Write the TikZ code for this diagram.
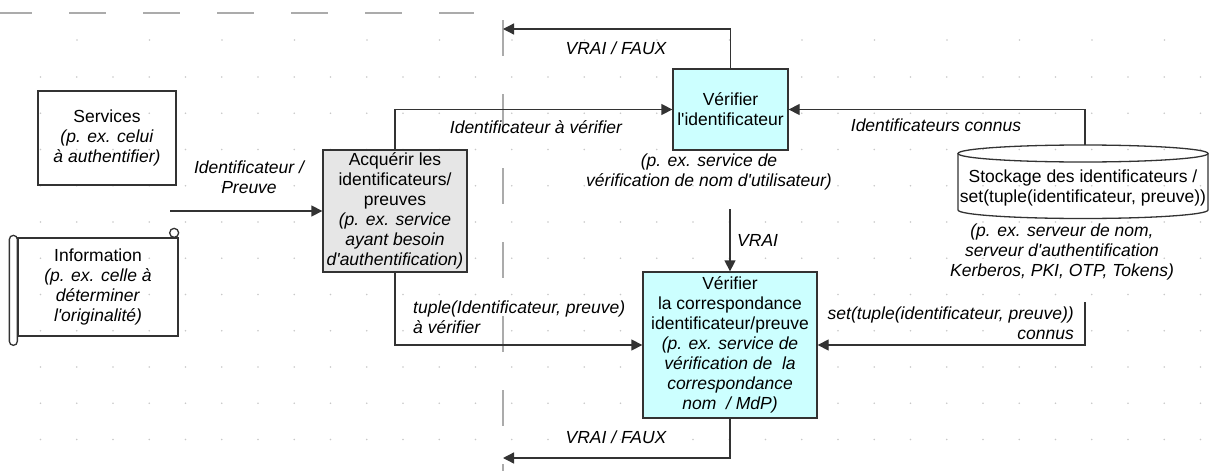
\documentclass[tikz,border=0pt]{standalone}
\usepackage{fontspec}
\setmainfont{Liberation Sans}[Ligatures=TeXOff]
\usepackage{xcolor}
\usetikzlibrary{arrows.meta}
\definecolor{boxcyan}{HTML}{CCFFFF}
\definecolor{boxgrey}{HTML}{E6E6E6}
\definecolor{linegrey}{HTML}{333333}
\definecolor{guidegrey}{HTML}{ABABAB}
\definecolor{dotgrey}{HTML}{C8C8C8}
\tikzset{
  block/.style={rectangle, draw=linegrey, line width=1.3pt, inner sep=0pt, align=center},
  process/.style={block, fill=boxcyan},
  acquire/.style={block, fill=boxgrey},
  note/.style={inner sep=0pt, align=center, font=\fontsize{17.5}{20}\selectfont\itshape},
  arrow/.style={-{Triangle[length=11pt,width=11pt]}, line width=1.3pt, draw=linegrey},
  guide/.style={draw=guidegrey, line width=1.3pt},
}

\begin{document}
\begin{tikzpicture}[x=1pt, y=-1pt, font=\fontsize{17.5}{20}\selectfont]
  \useasboundingbox (0,0) rectangle (1210,471);

  % Grid
  \foreach \i in {0,...,32}
    \foreach \j in {0,...,10}
      \fill[dotgrey] (40.5+36.25*\i, 77+36.25*\j) circle (0.8pt);
  \foreach \i in {0,...,15}
    \fill[dotgrey] (77+72.5*\i, 40) circle (0.8pt);

  % Guides
  \draw[guide, dash pattern=on 37pt off 37pt] (-5,13) -- (474,13);
  \draw[guide, dash pattern=on 36pt off 38pt] (503,20) -- (503,471);

  % Nodes
  \node[block, minimum width=138pt, minimum height=94pt] (services) at (107,138)
    {Services\\\textit{(p. ex. celui}\\\textit{à authentifier)}};
  \node[block, minimum width=160pt, minimum height=98pt] (info) at (98,287)
    {Information\\\textit{(p. ex. celle à}\\\textit{déterminer}\\\textit{l'originalité)}};
  \draw[draw=linegrey, line width=1.3pt, rounded corners=4pt, fill=white]
    (info.north west) ++(-8pt,2pt) rectangle ++(8pt,-110pt);
  \draw[draw=linegrey, line width=1.3pt] (info.north east) ++(-4.5pt,4.5pt) circle (4.5pt);
  \node[acquire, minimum width=144pt, minimum height=122pt] (acquire) at (395,211)
    {Acquérir les\\identificateurs/\\preuves\\\textit{(p. ex. service}\\\textit{ayant besoin}\\\textit{d'authentification)}};
  \node[process, minimum width=115pt, minimum height=81pt] (checkid) at (730.5,109.5)
    {Vérifier\\l'identificateur};
  \node[note] (checkidnote) at (709,172)
    {(p. ex. service de\\vérification de nom d'utilisateur)};
  \node[process, minimum width=174pt, minimum height=146pt] (checkpair) at (730,345)
    {Vérifier\\la correspondance\\identificateur/preuve\\\textit{(p. ex. service de}\\\textit{vérification de\ \ la}\\\textit{correspondance}\\\textit{nom\ \ / MdP)}};

  % Store
  \draw[draw=linegrey, line width=1.3pt] (958,153.5) -- (958,210)
    arc[start angle=180, end angle=360, x radius=125pt, y radius=8.5pt] -- (1208,153.5);
  \draw[draw=linegrey, line width=1.3pt] (1083,153.5) ellipse [x radius=125pt, y radius=8.5pt];
  \node[inner sep=0pt, align=center] (store) at (1083,188)
    {Stockage des identificateurs /\\set(tuple(identificateur, preuve))};
  \node[note] (storenote) at (1062,252)
    {(p. ex. serveur de nom,\\serveur d'authentification\\Kerberos, PKI, OTP, Tokens)};

  % Free ends
  \coordinate (srcout) at (170,211);
  \coordinate (retid) at (503,29);
  \coordinate (truein) at (730,209);
  \coordinate (storetop) at (1085,145);
  \coordinate (storeout) at (1085,302);
  \coordinate (retpair) at (503,458);

  % Arrows
  \draw[arrow] (srcout) -- (acquire.west);
  \node[note] (lblproof) at (249,177) {Identificateur /\\Preuve};

  \draw[arrow] (acquire.north) |- (checkid.west);
  \node[note] (lblid) at (536,127) {Identificateur à vérifier};

  \draw[arrow] (checkid.north) |- (retid);
  \node[note] (lblidres) at (616,48) {VRAI / FAUX};

  \draw[arrow] (storetop) |- (checkid.east);
  \node[note] (lblknown) at (936,125) {Identificateurs connus};

  \draw[arrow] (truein) -- (checkpair.north);
  \node[note, anchor=west] (lbltrue) at (737,240) {VRAI};

  \draw[arrow] (acquire.south) |- (checkpair.west);
  \node[note, anchor=west, align=left] (lbltuple) at (413,317)
    {tuple(Identificateur, preuve)\\à vérifier};

  \draw[arrow] (storeout) |- (checkpair.east);
  \node[note, anchor=east, align=right] (lblset) at (1074,323)
    {set(tuple(identificateur, preuve))\\connus};

  \draw[arrow] (checkpair.south) |- (retpair);
  \node[note] (lblpairres) at (616,437) {VRAI / FAUX};

\end{tikzpicture}
\end{document}
